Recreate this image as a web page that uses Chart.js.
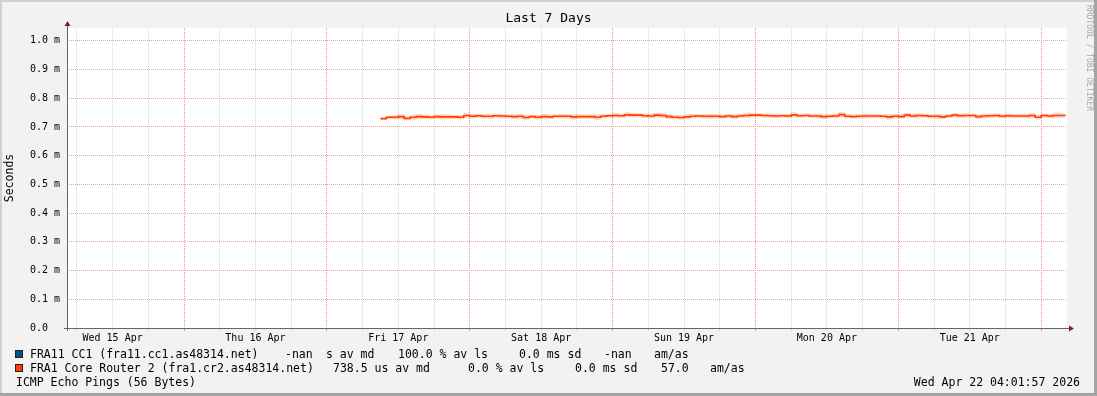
<!DOCTYPE html>
<html>
<head>
<meta charset="utf-8">
<script src="https://cdn.jsdelivr.net/npm/chart.js@4.4.1/dist/chart.umd.min.js"></script>
<style>
html, body { margin: 0; padding: 0; background: #f2f2f2; }
#grafico { display: block; }
</style>
</head>
<body>
<canvas id="grafico" width="1097" height="396"></canvas>
<script>
// horas contadas desde Thu 16 Apr 00:00
const horaInicio = 33;

// mediana (s), una muestra por hora
const mediana = [
    0.729, 0.734, 0.734, 0.736, 0.730, 0.734, 0.736, 0.735, 0.734, 0.736, 0.735, 0.735,
    0.735, 0.734, 0.740, 0.737, 0.739, 0.737, 0.737, 0.739, 0.738, 0.737, 0.736,
    0.737, 0.733, 0.736, 0.734, 0.736, 0.735, 0.737, 0.737, 0.737, 0.735, 0.736, 0.736,
    0.736, 0.734, 0.737, 0.739, 0.740, 0.739, 0.742, 0.741, 0.741, 0.739, 0.738,
    0.741, 0.740, 0.736, 0.734, 0.733, 0.735, 0.737, 0.738, 0.737, 0.737, 0.737, 0.736,
    0.738, 0.736, 0.738, 0.740, 0.741, 0.741, 0.740, 0.739, 0.738, 0.739, 0.738, 0.742,
    0.739, 0.740, 0.738, 0.738, 0.736, 0.737, 0.738, 0.743, 0.737, 0.736, 0.737, 0.738,
    0.738, 0.738, 0.737, 0.735, 0.737, 0.736, 0.741, 0.738, 0.740, 0.739, 0.737,
    0.737, 0.735, 0.738, 0.741, 0.739, 0.740, 0.740, 0.736, 0.738, 0.739, 0.740, 0.737,
    0.739, 0.738, 0.738, 0.738, 0.740, 0.734, 0.740, 0.738, 0.740, 0.740, 0.7385
];

// media anchura del humo (s)
const humo = [
    0.004, 0.006, 0.008, 0.009, 0.007, 0.008, 0.009, 0.008, 0.007, 0.008, 0.009, 0.008,
    0.007, 0.008, 0.009, 0.008, 0.007, 0.008, 0.009, 0.008, 0.008, 0.007, 0.008,
    0.009, 0.008, 0.007, 0.008, 0.009, 0.008, 0.007, 0.008, 0.008, 0.009, 0.008, 0.007,
    0.008, 0.009, 0.008, 0.007, 0.009, 0.008, 0.009, 0.008, 0.007, 0.008, 0.009,
    0.008, 0.009, 0.008, 0.007, 0.008, 0.009, 0.008, 0.007, 0.008, 0.009, 0.008, 0.007,
    0.008, 0.009, 0.008, 0.009, 0.008, 0.007, 0.008, 0.009, 0.008, 0.007, 0.008, 0.009,
    0.008, 0.007, 0.008, 0.009, 0.008, 0.007, 0.008, 0.009, 0.008, 0.007, 0.008, 0.009,
    0.008, 0.007, 0.008, 0.009, 0.008, 0.007, 0.008, 0.009, 0.008, 0.007, 0.008,
    0.009, 0.008, 0.007, 0.008, 0.009, 0.008, 0.007, 0.008, 0.009, 0.008, 0.007, 0.008,
    0.009, 0.008, 0.007, 0.008, 0.009, 0.008, 0.007, 0.008, 0.009, 0.008, 0.007
];

const dias = ["Wed 15 Apr", "Thu 16 Apr", "Fri 17 Apr", "Sat 18 Apr", "Sun 19 Apr", "Mon 20 Apr", "Tue 21 Apr"];
const valoresY = [0, 0.1, 0.2, 0.3, 0.4, 0.5, 0.6, 0.7, 0.8, 0.9, 1.0];
const etiquetasY = ["0.0", "0.1 m", "0.2 m", "0.3 m", "0.4 m", "0.5 m", "0.6 m", "0.7 m", "0.8 m", "0.9 m", "1.0 m"];

const leyenda = [
    { color: "#004e8f", partes: [[30, "FRA11 CC1 (fra11.cc1.as48314.net)"], [285, "-nan"], [326, "s av md"], [398, "100.0 % av ls"], [519, "0.0 ms sd"], [604, "-nan"], [654, "am/as"]] },
    { color: "#ff4000", partes: [[30, "FRA1 Core Router 2 (fra1.cr2.as48314.net)"], [333, "738.5 us av md"], [468, "0.0 % av ls"], [575, "0.0 ms sd"], [661, "57.0"], [710, "am/as"]] }
];
const titulo = "Last 7 Days";
const pie = "ICMP Echo Pings (56 Bytes)";
const fecha = "Wed Apr 22 04:01:57 2026";

const ejeMin = -19.66, ejeMax = 148.34;
const primeraMarca = -18;
const mono = '"DejaVu Sans Mono", monospace';

const puntos = (arr) => arr.map((v, i) => ({ x: horaInicio + i, y: v }));
const alto = puntos(mediana.map((v, i) => v + humo[i]));
const bajo = puntos(mediana.map((v, i) => v - humo[i]));

const esMedianoche = (i) => ((primeraMarca + i * 6) % 24 + 24) % 24 === 0;

const marco = {
    id: 'marco',
    beforeDraw(chart) {
        const ctx = chart.ctx, a = chart.chartArea;
        const W = chart.width, H = chart.height;
        ctx.save();
        ctx.fillStyle = '#f2f2f2';
        ctx.fillRect(0, 0, W, H);
        ctx.fillStyle = '#d0d0d0';
        ctx.fillRect(0, 0, W, 2);
        ctx.fillRect(0, 0, 2, H);
        ctx.fillStyle = '#a4a4a4';
        ctx.fillRect(0, H - 3, W, 3);
        ctx.fillRect(W - 3, 0, 3, H);
        ctx.fillStyle = '#ffffff';
        ctx.fillRect(a.left, a.top, a.right - a.left, a.bottom - a.top);
        ctx.restore();
    },
    afterDraw(chart) {
        const ctx = chart.ctx, a = chart.chartArea;
        ctx.save();

        // ejes
        ctx.strokeStyle = '#666';
        ctx.lineWidth = 1;
        ctx.beginPath();
        ctx.moveTo(a.left - 3, a.bottom + 0.5);
        ctx.lineTo(a.right + 3, a.bottom + 0.5);
        ctx.moveTo(a.left + 0.5, a.bottom + 3);
        ctx.lineTo(a.left + 0.5, a.top - 3);
        ctx.stroke();

        ctx.fillStyle = '#8f1a1a';
        ctx.beginPath();
        ctx.moveTo(a.right + 2, a.bottom - 2.5);
        ctx.lineTo(a.right + 7, a.bottom + 0.5);
        ctx.lineTo(a.right + 2, a.bottom + 3.5);
        ctx.fill();
        ctx.beginPath();
        ctx.moveTo(a.left - 2.5, a.top - 2);
        ctx.lineTo(a.left + 0.5, a.top - 7);
        ctx.lineTo(a.left + 3.5, a.top - 2);
        ctx.fill();

        ctx.fillStyle = '#000';
        ctx.textBaseline = 'middle';

        ctx.font = '13px ' + mono;
        ctx.textAlign = 'center';
        ctx.fillText(titulo, chart.width / 2, 19);

        ctx.font = '11.5px ' + mono;
        ctx.save();
        ctx.translate(10, (a.top + a.bottom) / 2);
        ctx.rotate(-Math.PI / 2);
        ctx.fillText("Seconds", 0, 0);
        ctx.restore();

        ctx.textAlign = 'left';
        leyenda.forEach((l, i) => {
            const y = 354 + i * 14;
            ctx.fillStyle = l.color;
            ctx.fillRect(15, y - 4, 8, 8);
            ctx.strokeStyle = '#222';
            ctx.strokeRect(15.5, y - 3.5, 7, 7);
            ctx.fillStyle = '#000';
            l.partes.forEach(p => ctx.fillText(p[1], p[0], y + 1));
        });
        ctx.fillText(pie, 16, 383);
        ctx.textAlign = 'right';
        ctx.fillText(fecha, 1080, 383);

        ctx.save();
        ctx.font = '8px ' + mono;
        ctx.fillStyle = '#a8a8a8';
        ctx.textAlign = 'left';
        ctx.translate(1089, 5);
        ctx.rotate(Math.PI / 2);
        ctx.fillText("RRDTOOL / TOBI OETIKER", 0, 0);
        ctx.restore();

        ctx.restore();
    }
};

new Chart(document.getElementById('grafico'), {
    type: 'line',
    data: {
        datasets: [
            { label: 'humo alto', data: alto, borderWidth: 0, pointRadius: 0, stepped: true, fill: '+1', backgroundColor: 'rgba(255,64,0,0.22)' },
            { label: 'humo bajo', data: bajo, borderWidth: 0, pointRadius: 0, stepped: true, fill: false },
            { label: 'FRA1 Core Router 2', data: puntos(mediana), borderColor: '#ff4000', borderWidth: 1.6, pointRadius: 0, stepped: true, fill: false },
            { label: 'FRA11 CC1', data: [], borderColor: '#004e8f', pointRadius: 0 }
        ]
    },
    options: {
        responsive: false,
        devicePixelRatio: 1,
        animation: false,
        layout: { padding: { left: 30, right: 30, top: 28, bottom: 0 } },
        plugins: { legend: { display: false }, tooltip: { enabled: false } },
        scales: {
            x: {
                type: 'linear',
                min: ejeMin,
                max: ejeMax,
                afterFit: s => { s.height = 68; },
                afterBuildTicks: s => {
                    s.ticks = [];
                    for (let v = primeraMarca; v <= ejeMax; v += 6) s.ticks.push({ value: v });
                },
                border: { display: false, dash: [1, 1] },
                grid: {
                    color: c => esMedianoche(c.index) ? '#ee9090' : '#d2d2d2',
                    lineWidth: 1,
                    drawTicks: true,
                    tickLength: 3
                },
                ticks: {
                    autoSkip: false,
                    maxRotation: 0,
                    padding: 1,
                    color: '#000',
                    font: { family: mono, size: 10 },
                    callback: v => (((v % 24) + 24) % 24 === 12) ? dias[(v + 12) / 24] : ''
                }
            },
            y: {
                min: 0,
                max: 1.0445,
                afterFit: s => { s.width = 37; },
                afterBuildTicks: s => { s.ticks = valoresY.map(v => ({ value: v })); },
                border: { display: false, dash: [1, 1] },
                grid: { color: '#f0a0a0', lineWidth: 1, drawTicks: false },
                ticks: {
                    crossAlign: 'far',
                    padding: 7,
                    color: '#000',
                    font: { family: mono, size: 10 },
                    callback: (v, i) => etiquetasY[i]
                }
            }
        }
    },
    plugins: [marco]
});
</script>
</body>
</html>
